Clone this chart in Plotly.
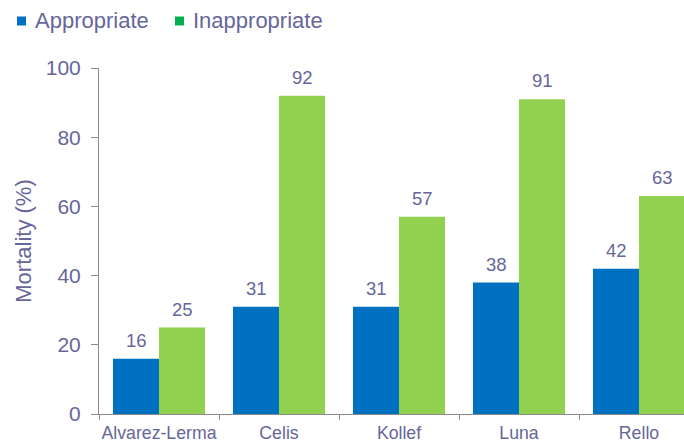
import plotly.graph_objects as go

categories = ["Alvarez-Lerma", "Celis", "Kollef", "Luna", "Rello"]
appropriate = [16, 31, 31, 38, 42]
inappropriate = [25, 92, 57, 91, 63]
series_names = ["Appropriate", "Inappropriate"]
bar_colors = ["#0070C0", "#92D050"]
legend_colors = ["#0070C0", "#00B050"]
txt = "#66669A"
axis_col = "#8C8C8C"
font_family = "Liberation Sans, Arial, sans-serif"

W, H = 684, 443
L, R, T, B = 99, 0, 68, 29
PW, PH = W - L - R, H - T - B

def px_x(p):
    return (p - L) / PW

def px_y(p):
    return (H - B - p) / PH

fig = go.Figure()
series = [appropriate, inappropriate]
for name, vals, c in zip(series_names, series, bar_colors):
    fig.add_trace(go.Bar(
        x=categories, y=vals, name=name,
        marker=dict(color=c, line=dict(width=0)),
        showlegend=False, hoverinfo="x+y+name",
    ))

# value labels
shifts = [-23, 23]
for vals, xs in zip(series, shifts):
    for cat, v in zip(categories, vals):
        fig.add_annotation(
            x=cat, y=v, xref="x", yref="y", text=str(v), showarrow=False,
            xanchor="center", yanchor="bottom", xshift=xs, yshift=6,
            font=dict(size=18.5, color=txt, family=font_family),
        )

# legend (drawn at top-left like the original)
legend_pos = [(17, 35), (175, 193)]
for name, c, (sx, tx) in zip(series_names, legend_colors, legend_pos):
    fig.add_shape(
        type="rect", xref="paper", yref="paper",
        x0=px_x(sx), x1=px_x(sx + 9), y0=px_y(25.5), y1=px_y(16.5),
        fillcolor=c, line=dict(width=0),
    )
    fig.add_annotation(
        x=px_x(tx - 2), y=px_y(21), xref="paper", yref="paper", text=name,
        showarrow=False, xanchor="left", yanchor="middle",
        font=dict(size=22, color=txt, family=font_family),
    )

fig.update_layout(
    width=W, height=H,
    margin=dict(l=L, r=R, t=T, b=B, autoexpand=False),
    plot_bgcolor="white", paper_bgcolor="white",
    barmode="group", bargap=0.233, bargroupgap=0,
    font=dict(family=font_family, color=txt),
    showlegend=False,
)
fig.update_xaxes(
    type="category", range=[-0.5, 4.375], tickson="boundaries",
    ticks="outside", ticklen=5, tickcolor=axis_col, tickangle=0,
    showline=True, linecolor=axis_col, linewidth=1,
    tickfont=dict(size=17.7, color=txt), showgrid=False,
    ticklabelstandoff=3,
)
fig.update_yaxes(
    range=[0, 100], dtick=20, ticks="outside", ticklen=7, tickcolor=axis_col,
    showline=True, linecolor=axis_col, linewidth=1, showgrid=False, zeroline=False,
    tickfont=dict(size=21, color=txt), ticklabelstandoff=6,
    title=dict(text="Mortality (%)", font=dict(size=22, color=txt), standoff=8),
)

fig.write_html("out.html")
